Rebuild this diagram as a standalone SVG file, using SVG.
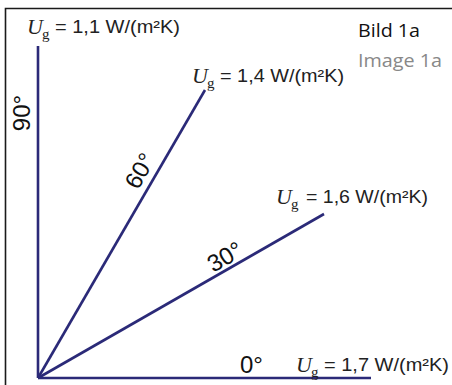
<svg xmlns="http://www.w3.org/2000/svg" width="452" height="385" viewBox="0 0 452 385">
<style>
.frame{stroke:#1a1a1a;stroke-width:1.6;fill:none}
.ray{stroke:#2b2a78;stroke-width:2.6;fill:none;stroke-linecap:butt}
.u{font-family:"Liberation Serif",serif;font-style:italic;font-size:22px;fill:#222}
.sub{font-family:"Liberation Serif",serif;font-size:15px;fill:#222}
.val{font-family:"Liberation Sans",Arial,sans-serif;font-size:18px;fill:#222}
.deg{font-family:"Liberation Sans",Arial,sans-serif;font-size:24px;fill:#111}
.bild{font-family:"Open Sans","Liberation Sans",sans-serif;font-size:19px}
</style>
<rect width="452" height="385" fill="#fff"/>
<path class="frame" d="M5.5,385 V8.5 H452"/>
<g id="connectors">
<line class="ray" x1="38" y1="378" x2="38" y2="46"/>
<line class="ray" x1="38" y1="378" x2="205" y2="90"/>
<line class="ray" x1="38" y1="378" x2="324" y2="214"/>
<line class="ray" x1="38" y1="378" x2="371" y2="378"/>
</g>
<g id="label-90">
<text class="u" x="27" y="34">U</text><text class="sub" x="42" y="39">g</text><text class="val" x="55" y="33" textLength="125" lengthAdjust="spacingAndGlyphs">= 1,1 W/(m²K)</text>
<text class="deg" transform="translate(30,113) rotate(-90)" text-anchor="middle">90°</text>
</g>
<g id="label-60">
<text class="u" x="192" y="83">U</text><text class="sub" x="207" y="88">g</text><text class="val" x="220" y="82" textLength="124" lengthAdjust="spacingAndGlyphs">= 1,4 W/(m²K)</text>
<text class="deg" transform="translate(147,175) rotate(-60)" text-anchor="middle">60°</text>
</g>
<g id="label-30">
<text class="u" x="276" y="204">U</text><text class="sub" x="291" y="209">g</text><text class="val" x="306" y="203" textLength="122" lengthAdjust="spacingAndGlyphs">= 1,6 W/(m²K)</text>
<text class="deg" transform="translate(229,264) rotate(-30)" text-anchor="middle">30°</text>
</g>
<g id="label-0">
<text class="u" x="296" y="372">U</text><text class="sub" x="311" y="377">g</text><text class="val" x="324" y="371" textLength="125" lengthAdjust="spacingAndGlyphs">= 1,7 W/(m²K)</text>
<text class="deg" x="240" y="373">0°</text>
</g>
<g id="caption">
<text class="bild" x="358" y="37" fill="#111" font-weight="500" textLength="62" lengthAdjust="spacingAndGlyphs">Bild 1a</text>
<text class="bild" x="358" y="67" fill="#888" textLength="84" lengthAdjust="spacingAndGlyphs">Image 1a</text>
</g>
</svg>
